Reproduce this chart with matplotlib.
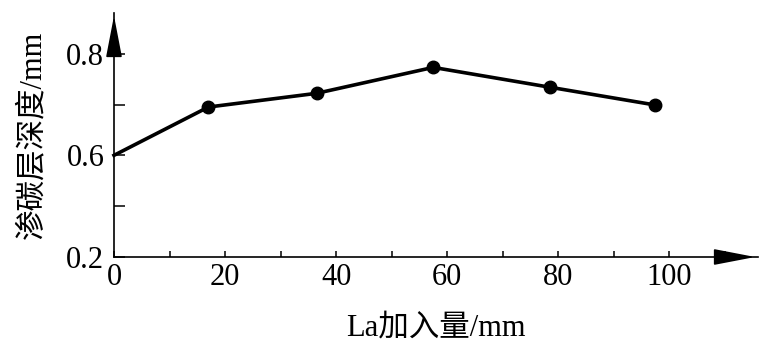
import matplotlib.pyplot as plt

# La addition vs carburized layer depth
la_add = [0, 17, 36.5, 57.5, 78.5, 97.5]
depth = [0.600, 0.695, 0.722, 0.773, 0.734, 0.699]

xticks = [0, 10, 20, 30, 40, 50, 60, 70, 80, 90, 100, 110]
xlabels = ['0', '', '20', '', '40', '', '60', '', '80', '', '100', '']
yticks = [0.4, 0.5, 0.6, 0.7, 0.8]
ylabels = ['0.2', '', '0.6', '', '0.8']

fonts = ['Liberation Serif', 'Noto Sans CJK SC']
plt.rcParams['font.family'] = fonts

fig = plt.figure(figsize=(7.72, 3.56), dpi=100)
ax = fig.add_axes([114 / 772, 99 / 356, 644 / 772, 244 / 356])

# first point sits on the axis with no dot
ax.plot(la_add, depth, color='black', lw=2.6, marker='o', ms=9,
        markevery=list(range(1, len(la_add))), clip_on=False)

ax.set_xlim(0, 116)
ax.set_ylim(0.406, 0.880)

for s in ['top', 'right']:
    ax.spines[s].set_visible(False)
ax.spines['left'].set_linewidth(1.2)
ax.spines['bottom'].set_linewidth(1.2)

# arrow heads on the axes
head = dict(arrowstyle='-|>,head_length=1.3,head_width=0.25',
            color='black', lw=1.2, mutation_scale=20)
ax.annotate('', xy=(1.0, 0), xytext=(0.95, 0), xycoords='axes fraction',
            arrowprops=head)
ax.annotate('', xy=(0, 1.0), xytext=(0, 0.9), xycoords='axes fraction',
            arrowprops=head)

ax.set_xticks(xticks)
ax.set_xticklabels(xlabels)
ax.set_yticks(yticks)
ax.set_yticklabels(ylabels)
ax.tick_params(axis='x', direction='in', length=4, width=1.1, labelsize=22, pad=4)
ax.tick_params(axis='y', direction='in', length=8, width=1.1, labelsize=22, pad=7)

ax.set_xlabel('La加入量/mm', fontsize=22, labelpad=16)
ax.set_ylabel('渗碳层深度/mm', fontsize=22, labelpad=14)

fig.savefig('out.png', dpi=100)
